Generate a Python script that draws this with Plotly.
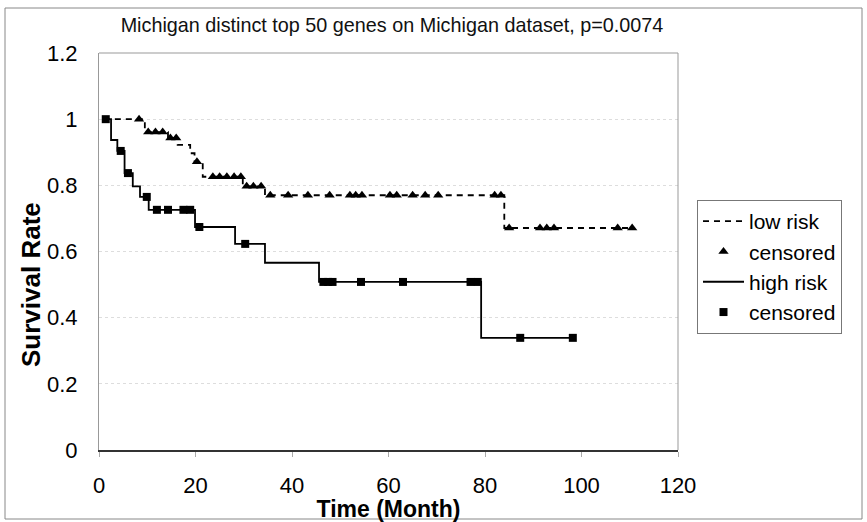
import plotly.graph_objects as go

# Low risk KM step curve (time in months, survival)
low_t = [1.0, 9.5, 14.3, 16.3, 18.9, 19.8, 21.5, 29.8, 34.4, 84.0, 110.5]
low_s = [1.0, 0.961, 0.943, 0.922, 0.897, 0.871, 0.826, 0.797, 0.770, 0.671, 0.671]
low_cens_t = [8.3, 10.2, 11.7, 13.2, 14.8, 16.0, 20.3, 23.6, 25.0, 26.5, 28.0, 29.4,
              30.6, 32.0, 33.6, 35.5, 39.2, 43.3, 47.8, 52.0, 53.2, 54.5, 60.3, 61.7,
              65.0, 67.6, 70.3, 82.0, 83.3, 85.0, 91.4, 92.8, 94.3, 107.5, 110.5]
low_cens_s = [1.0, 0.961, 0.961, 0.961, 0.943, 0.943, 0.871, 0.826, 0.826, 0.826, 0.826, 0.826,
              0.797, 0.797, 0.797, 0.770, 0.770, 0.770, 0.770, 0.770, 0.770, 0.770, 0.770, 0.770,
              0.770, 0.770, 0.770, 0.770, 0.770, 0.671, 0.671, 0.671, 0.671, 0.671, 0.671]

# High risk KM step curve
high_t = [1.0, 2.5, 3.8, 5.3, 7.0, 8.5, 10.3, 19.9, 28.2, 34.4, 45.6, 79.2, 98.2]
high_s = [1.0, 0.937, 0.904, 0.837, 0.797, 0.765, 0.726, 0.674, 0.623, 0.566, 0.508, 0.339, 0.339]
high_cens_t = [1.4, 4.5, 6.0, 9.9, 12.0, 14.3, 17.5, 18.9, 20.8, 30.3, 46.5, 47.5, 48.4,
               54.3, 63.0, 77.0, 78.5, 87.3, 98.2]
high_cens_s = [1.0, 0.904, 0.837, 0.765, 0.726, 0.726, 0.726, 0.726, 0.674, 0.623, 0.508, 0.508, 0.508,
               0.508, 0.508, 0.508, 0.508, 0.339, 0.339]

x_ticks = [0, 20, 40, 60, 80, 100, 120]
y_ticks = [0, 0.2, 0.4, 0.6, 0.8, 1.0, 1.2]
y_tick_text = ["0", "0.2", "0.4", "0.6", "0.8", "1", "1.2"]

FONT = "Liberation Sans, Arial, sans-serif"

fig = go.Figure()
fig.add_trace(go.Scatter(x=low_t, y=low_s, mode="lines", line_shape="hv",
                         line=dict(color="black", width=1.8, dash="6px,5px"),
                         name="low risk"))
fig.add_trace(go.Scatter(x=low_cens_t, y=low_cens_s, mode="markers",
                         marker=dict(symbol="triangle-up", size=9, color="black"),
                         name="censored"))
fig.add_trace(go.Scatter(x=high_t, y=high_s, mode="lines", line_shape="hv",
                         line=dict(color="black", width=1.8),
                         name="high risk"))
fig.add_trace(go.Scatter(x=high_cens_t, y=high_cens_s, mode="markers",
                         marker=dict(symbol="square", size=8, color="black"),
                         name="censored"))

L, R, T, B = 99, 189, 53, 72
W, H = 867, 522
pw, ph = W - L - R, H - T - B

def px_x(p):
    return (p - L) / pw

def px_y(p):
    return (H - B - p) / ph

fig.update_layout(
    width=W, height=H,
    margin=dict(l=L, r=R, t=T, b=B, autoexpand=False),
    paper_bgcolor="white", plot_bgcolor="white",
    font=dict(family=FONT, color="black", size=22),
    title=dict(text="Michigan distinct top 50 genes on Michigan dataset, p=0.0074",
               xref="paper", x=px_x(392), xanchor="center",
               yref="container", y=1 - 25 / H, yanchor="middle",
               font=dict(size=19.8, family=FONT, color="#111111")),
    showlegend=True,
    legend=dict(x=px_x(697), xanchor="left", y=px_y(200), yanchor="top",
                bordercolor="#777777", borderwidth=1, bgcolor="white",
                font=dict(size=21, family=FONT), tracegroupgap=0,
                itemwidth=41),
    xaxis=dict(range=[0, 120], tickvals=x_ticks, ticks="outside", ticklen=5,
               tickcolor="#aaaaaa", showgrid=False, zeroline=False,
               showline=True, linecolor="#333333", linewidth=2, mirror=False,
               ticklabelstandoff=10, automargin=False,
               tickfont=dict(size=22, family=FONT),
               title=dict(text="<b>Time (Month)</b>", standoff=0,
                          font=dict(size=23, family=FONT))),
    yaxis=dict(range=[0, 1.2], tickvals=y_ticks, ticktext=y_tick_text,
               ticks="outside", ticklen=5, tickcolor="#ffffff",
               showgrid=True, gridcolor="#dddddd", griddash="dot", gridwidth=1,
               zeroline=False, showline=True, linecolor="#999999", linewidth=1,
               ticklabelstandoff=11, automargin=False,
               tickfont=dict(size=22, family=FONT)),
    annotations=[
        dict(text="<b>Survival Rate</b>", textangle=-90, showarrow=False,
             xref="paper", yref="paper", x=px_x(31), y=px_y(285),
             xanchor="center", yanchor="middle",
             font=dict(size=26, family=FONT, color="black")),
    ],
    shapes=[
        # plot area top and right border
        dict(type="line", xref="paper", yref="paper", x0=0, x1=1, y0=1, y1=1,
             line=dict(color="#999999", width=1)),
        dict(type="line", xref="paper", yref="paper", x0=1, x1=1, y0=0, y1=1,
             line=dict(color="#999999", width=1)),
        # outer chart border
        dict(type="rect", xref="paper", yref="paper",
             x0=px_x(5), x1=px_x(862), y0=px_y(519), y1=px_y(8),
             line=dict(color="#888888", width=1)),
    ],
)

fig.write_html("out.html")
